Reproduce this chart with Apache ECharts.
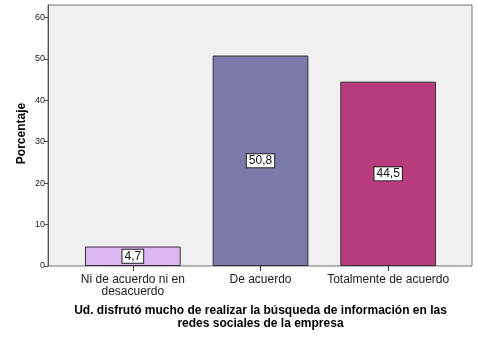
<!DOCTYPE html>
<html><head><meta charset="utf-8">
<script src="https://cdn.jsdelivr.net/npm/echarts@6/dist/echarts.min.js"></script>
<style>html,body{margin:0;padding:0;background:#fff}#c{width:479px;height:338px}</style>
</head><body><div id="c"></div>
<script>
const categories = ['Ni de acuerdo ni en\ndesacuerdo', 'De acuerdo', 'Totalmente de acuerdo'];
const values = [4.7, 50.8, 44.5];
const labels = ['4,7', '50,8', '44,5'];
const barColors = ['#dbb6ef', '#7b7aab', '#b83c7d'];
const yTicks = [0, 10, 20, 30, 40, 50, 60];
const yTitle = 'Porcentaje';
const xTitle = 'Ud. disfrutó mucho de realizar la búsqueda de información en las\nredes sociales de la empresa';

const font = 'Liberation Sans, Arial, sans-serif';
const chart = echarts.init(document.getElementById('c'), null, {renderer: 'canvas'});
chart.setOption({
  animation: false,
  backgroundColor: '#fff',
  grid: [
    {left: 48, right: 7, top: 5, bottom: 72, show: true, backgroundColor: '#f0f0f0', borderColor: '#707070', borderWidth: 1, containLabel: false, outerBoundsMode: 'none'},
    {left: 69, right: 27, top: 5, bottom: 72, containLabel: false, outerBoundsMode: 'none'}
  ],
  xAxis: [
    {gridIndex: 0, type: 'value', min: 0, max: 1, show: false},
    {gridIndex: 1, type: 'category', data: categories,
     axisLine: {show: false},
     axisTick: {show: true, alignWithLabel: true, length: 5, lineStyle: {color: '#333'}},
     axisLabel: {color: '#222', fontFamily: font, fontSize: 12, lineHeight: 12, margin: 8, interval: 0},
     name: xTitle, nameLocation: 'middle', nameGap: 38,
     nameTextStyle: {fontFamily: font, fontSize: 12, fontWeight: 'bold', color: '#000', lineHeight: 13}}
  ],
  yAxis: [
    {gridIndex: 0, type: 'value', min: 0, max: 63, interval: 10,
     axisLine: {show: true, lineStyle: {color: '#555'}},
     axisTick: {show: true, length: 4, lineStyle: {color: '#555'}},
     splitLine: {show: false},
     axisLabel: {showMaxLabel: false, color: '#222', fontFamily: font, fontSize: 9, margin: 3,
       formatter: v => yTicks.includes(v) ? String(v) : ''},
     name: yTitle, nameLocation: 'middle', nameGap: 20, nameRotate: 90, nameMoveOverlap: false,
     nameTextStyle: {fontFamily: font, fontSize: 12, fontWeight: 'bold', color: '#000', padding: [10, 0, 0, 4]}},
    {gridIndex: 1, type: 'value', min: 0, max: 63, show: false}
  ],
  series: [{
    type: 'bar', xAxisIndex: 1, yAxisIndex: 1,
    barWidth: '75%',
    data: values.map((v, i) => ({value: v, itemStyle: {color: barColors[i]}})),
    itemStyle: {borderColor: '#333', borderWidth: 1},
    label: {show: true, position: 'inside', formatter: p => labels[p.dataIndex],
      fontFamily: font, fontSize: 12, color: '#111', backgroundColor: '#fff',
      borderColor: '#222', borderWidth: 1, padding: [1, 2, 0, 2]}
  }]
});
</script></body></html>
